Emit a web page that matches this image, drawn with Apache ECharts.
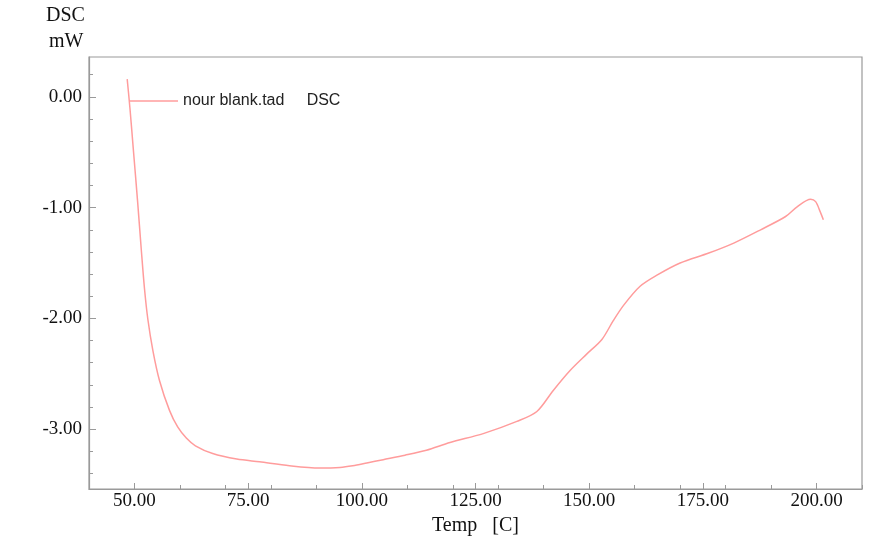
<!DOCTYPE html>
<html>
<head>
<meta charset="utf-8">
<script src="https://cdn.jsdelivr.net/npm/echarts@6/dist/echarts.min.js"></script>
<style>
  html, body { margin: 0; padding: 0; background: #fff; }
  #main { width: 875px; height: 550px; }
</style>
</head>
<body>
<div id="main"></div>
<script>
// DSC curve: temperature [C] and heat flow [mW]
var temps = [48.4, 49.0, 49.8, 50.7, 51.5, 52.2, 52.95, 54.05, 55.5, 57.7, 59.5, 61.4, 63.4, 67.2, 72.5, 77.5, 84.1, 90.7, 95.2,
    98.0, 101.1, 104.7, 109.5, 114.2, 119.4, 126.7, 134.1, 138.5, 142.1, 145.8, 149.5, 152.8, 155.3, 157.6, 161.2, 164.9,
    170.0, 176.3, 181.8, 187.7, 193.2, 195.8, 198.7, 199.8, 200.8, 201.5];
var dsc = [0.16, -0.1, -0.5, -0.95, -1.38, -1.73, -2.01, -2.29, -2.56, -2.83, -2.98, -3.08, -3.15, -3.22, -3.27, -3.295, -3.33, -3.35, -3.345,
    -3.33, -3.305, -3.275, -3.235, -3.19, -3.12, -3.04, -2.93, -2.84, -2.65, -2.47, -2.32, -2.19, -2.02, -1.88, -1.71, -1.61,
    -1.50, -1.41, -1.32, -1.20, -1.08, -0.99, -0.924, -0.946, -1.036, -1.11];

var xMajor = [50, 75, 100, 125, 150, 175, 200];
var xMinor = [40, 50, 60, 70, 80, 90, 100, 110, 120, 130, 140, 150, 160, 170, 180, 190, 200, 210];
var yMajor = [0, -1, -2, -3];
var yMinor = [0.2, 0, -0.2, -0.4, -0.6, -0.8, -1, -1.2, -1.4, -1.6, -1.8, -2, -2.2, -2.4, -2.6, -2.8, -3, -3.2, -3.4];

var seriesName = 'nour blank.tad';
var points = temps.map(function(t, i) { return [t, dsc[i]]; });

var serif = '"Liberation Serif", "DejaVu Serif", serif';
var sans = '"Liberation Sans", Arial, sans-serif';
var axisGray = '#9a9a9a';
var lineColor = '#ff9c9c';

var myChart = echarts.init(document.getElementById('main'));

var option = {
    animation: false,
    grid: {
        left: 89,
        right: 13,
        top: 57,
        bottom: 61,
        show: true,
        borderColor: axisGray,
        borderWidth: 1.2
    },
    legend: {
        left: 125,
        top: 88,
        icon: 'rect',
        itemWidth: 48,
        itemHeight: 1.5,
        data: [seriesName],
        formatter: function(name) {
            return name + '     DSC';
        },
        textStyle: {
            fontFamily: sans,
            fontSize: 16,
            color: '#222',
            padding: [0, 0, 0, 0]
        }
    },
    graphic: [
        {
            type: 'text',
            left: 46,
            top: 6,
            style: { text: 'DSC', font: '20px ' + serif, fill: '#111' }
        },
        {
            type: 'text',
            left: 49,
            top: 32,
            style: { text: 'mW', font: '20px ' + serif, fill: '#111' }
        }
    ],
    xAxis: [
        {
            type: 'value',
            min: 40,
            max: 210,
            name: 'Temp   [C]',
            nameLocation: 'middle',
            nameGap: 25,
            nameTextStyle: { fontFamily: serif, fontSize: 20, color: '#111' },
            axisLine: { show: true, onZero: false, lineStyle: { color: axisGray, width: 1.2 } },
            axisTick: { show: true, inside: true, length: 6, customValues: xMajor, lineStyle: { color: axisGray } },
            axisLabel: {
                customValues: xMajor,
                margin: 3,
                fontFamily: serif,
                fontSize: 19,
                color: '#111',
                formatter: function(v) { return v.toFixed(2); }
            },
            splitLine: { show: false }
        },
        {
            type: 'value',
            min: 40,
            max: 210,
            position: 'bottom',
            axisLine: { show: false, onZero: false },
            axisTick: { show: true, inside: true, length: 4, customValues: xMinor, lineStyle: { color: axisGray } },
            axisLabel: { show: false },
            splitLine: { show: false }
        }
    ],
    yAxis: [
        {
            type: 'value',
            min: -3.54,
            max: 0.36,
            axisLine: { show: true, onZero: false, lineStyle: { color: axisGray, width: 1.2 } },
            axisTick: { show: true, inside: true, length: 7, customValues: yMajor, lineStyle: { color: axisGray } },
            axisLabel: {
                customValues: yMajor,
                margin: 7,
                fontFamily: serif,
                fontSize: 19,
                color: '#111',
                formatter: function(v) { return v.toFixed(2); }
            },
            splitLine: { show: false }
        },
        {
            type: 'value',
            min: -3.54,
            max: 0.36,
            position: 'left',
            axisLine: { show: false, onZero: false },
            axisTick: { show: true, inside: true, length: 4, customValues: yMinor, lineStyle: { color: axisGray } },
            axisLabel: { show: false },
            splitLine: { show: false }
        }
    ],
    series: [
        {
            name: seriesName,
            type: 'line',
            xAxisIndex: 0,
            yAxisIndex: 0,
            symbol: 'none',
            smooth: 0.3,
            lineStyle: { color: lineColor, width: 1.5 },
            itemStyle: { color: lineColor },
            data: points
        }
    ]
};

myChart.setOption(option);

window.addEventListener('resize', function() {
    myChart.resize();
});
</script>
</body>
</html>
